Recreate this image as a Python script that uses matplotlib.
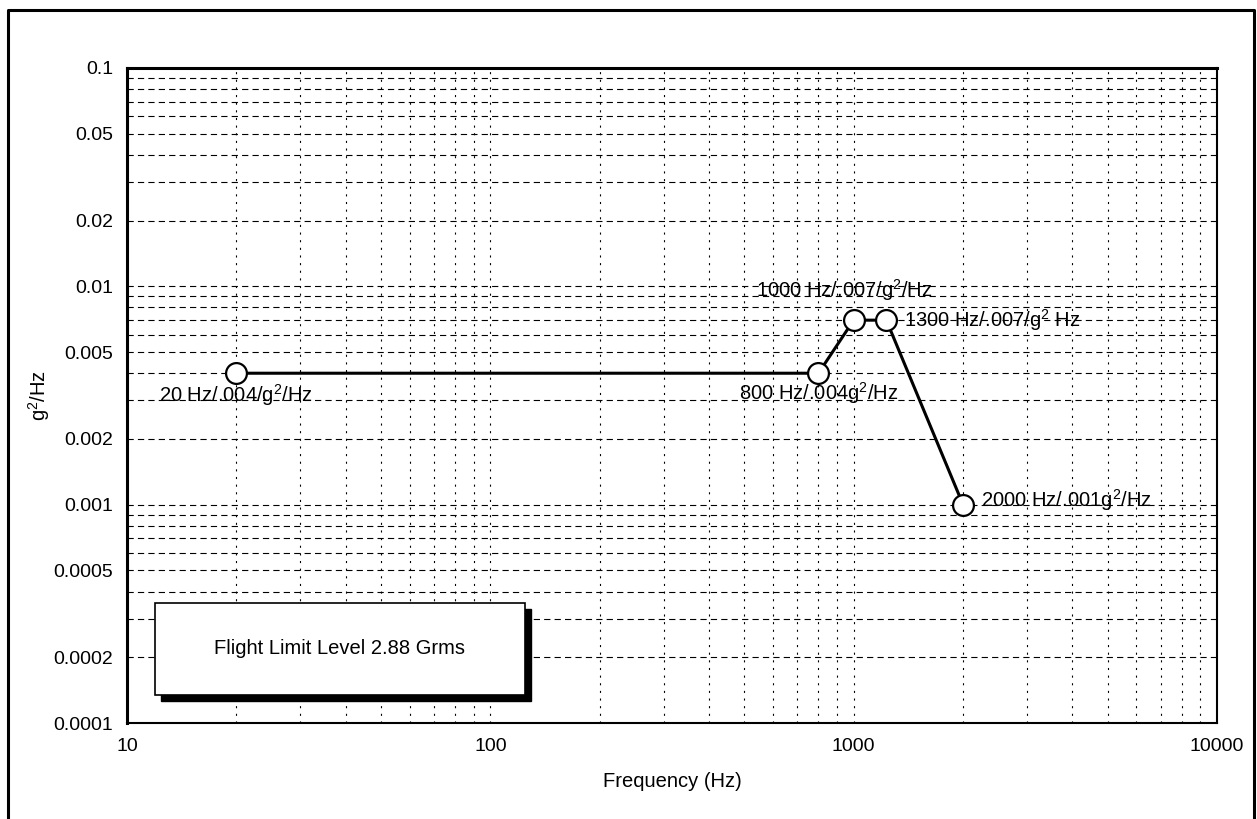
import numpy as np
import matplotlib
matplotlib.use("Agg")
import matplotlib.pyplot as plt
from matplotlib.patches import Rectangle
from matplotlib.lines import Line2D
from matplotlib.ticker import FixedLocator, FixedFormatter, NullFormatter

plt.rcParams['font.family'] = ['Liberation Sans', 'DejaVu Sans']
plt.rcParams['mathtext.fontset'] = 'custom'
plt.rcParams['mathtext.rm'] = 'Liberation Sans'
plt.rcParams['mathtext.default'] = 'regular'
plt.rcParams['lines.scale_dashes'] = False

# =========================
# DATA
# =========================
freq = [20, 800, 1000, 1230, 2000]
psd = [0.004, 0.004, 0.007, 0.007, 0.001]
point_labels = ["20 Hz/.004/g$^2$/Hz", "800 Hz/.004g$^2$/Hz", "1000 Hz/.007/g$^2$/Hz",
                "1300 Hz/.007/g$^2$ Hz", "2000 Hz/.001g$^2$/Hz"]

y_ticks = [0.0001, 0.0002, 0.0005, 0.001, 0.002, 0.005, 0.01, 0.02, 0.05, 0.1]
y_tick_labels = ["0.0001", "0.0002", "0.0005", "0.001", "0.002", "0.005",
                 "0.01", "0.02", "0.05", "0.1"]
x_ticks = [10, 100, 1000, 10000]
x_tick_labels = ["10", "100", "1000", "10000"]

note_text = "Flight Limit Level 2.88 Grms"

FS = 14.5

# =========================
# FIGURE
# =========================
W, H = 1257, 819
fig = plt.figure(figsize=(W / 100, H / 100), dpi=100)
ax = fig.add_axes([127 / W, 1 - 723 / H, (1217 - 127) / W, (723 - 68) / H])

ax.set_xscale("log")
ax.set_yscale("log")
ax.set_xlim(10, 10000)
ax.set_ylim(0.0001, 0.1)

# grid lines at every decade step
x_minor = [m * 10 ** e for e in range(1, 4) for m in range(2, 10)]
y_minor = [m * 10.0 ** e for e in range(-4, -1) for m in range(1, 10)]
y_minor = [v for v in y_minor if not any(abs(v - t) / t < 1e-6 for t in y_ticks)]

ax.xaxis.set_major_locator(FixedLocator(x_ticks))
ax.xaxis.set_major_formatter(FixedFormatter(x_tick_labels))
ax.xaxis.set_minor_locator(FixedLocator(x_minor))
ax.xaxis.set_minor_formatter(NullFormatter())
ax.yaxis.set_major_locator(FixedLocator(y_ticks))
ax.yaxis.set_major_formatter(FixedFormatter(y_tick_labels))
ax.yaxis.set_minor_locator(FixedLocator(y_minor))
ax.yaxis.set_minor_formatter(NullFormatter())

ax.grid(True, which="both", axis="y", color="black", lw=0.8, linestyle=(0, (4.5, 3)))
ax.grid(True, which="both", axis="x", color="black", lw=0.8, linestyle=(0, (1.5, 4)))
ax.tick_params(which="both", length=0, labelsize=14)
ax.tick_params(axis="y", pad=10)
ax.tick_params(axis="x", pad=11)

for s in ax.spines.values():
    s.set_linewidth(1.5)
ax.spines["top"].set_linewidth(2.2)
ax.spines["left"].set_linewidth(2.2)

ax.plot(freq, psd, color="black", lw=2.2, marker="o", ms=15,
        markerfacecolor="white", markeredgecolor="black", markeredgewidth=1.6, zorder=5)

# labels next to the points
offsets = [(0, -16, "center"), (0, -14, "center"), (-7, 22, "center"),
           (13, 0, "left"), (13, 3, "left")]
for fx, fy, lab, (dx, dy, ha) in zip(freq, psd, point_labels, offsets):
    ax.annotate(lab, (fx, fy), xytext=(dx, dy), textcoords="offset points",
                ha=ha, va="center", fontsize=FS, zorder=6)

ax.set_xlabel("Frequency (Hz)", fontsize=FS, labelpad=12)
ax.set_ylabel("g$^2$/Hz", fontsize=FS, labelpad=1)

# note box with drop shadow
bx0, by0, bx1, by1 = 155, 603, 525, 695
shadow = Rectangle(((bx0 + 6) / W, 1 - (by1 + 6) / H), (bx1 - bx0) / W, (by1 - by0) / H,
                   transform=fig.transFigure, facecolor="black", edgecolor="black", zorder=8)
box = Rectangle((bx0 / W, 1 - by1 / H), (bx1 - bx0) / W, (by1 - by0) / H,
                transform=fig.transFigure, facecolor="white", edgecolor="black", lw=1.2, zorder=9)
fig.patches.extend([shadow, box])
fig.text((bx0 + bx1) / 2 / W, 1 - (by0 + by1) / 2 / H, note_text, ha="center", va="center",
         fontsize=FS, zorder=10)

# outer frame
fig.lines.append(Line2D([8 / W, 8 / W, 1254 / W, 1254 / W], [0, 1 - 10 / H, 1 - 10 / H, 0],
                        transform=fig.transFigure, color="black", lw=2.2))

fig.savefig("out.png", dpi=100, facecolor="white")
